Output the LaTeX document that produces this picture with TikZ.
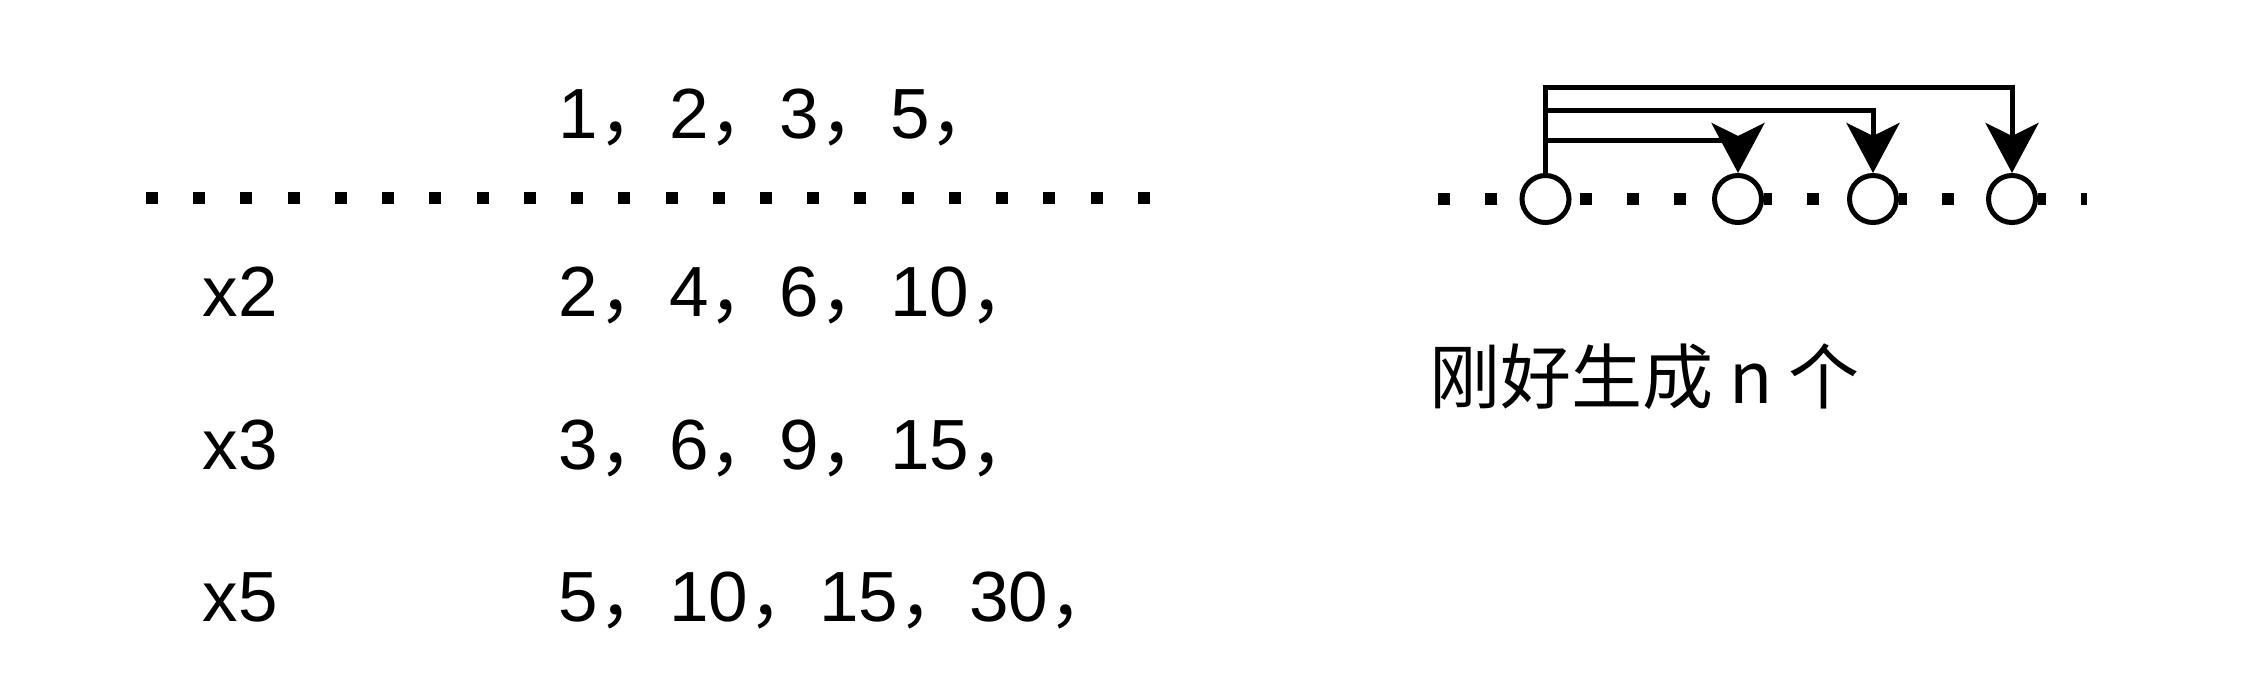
\documentclass[tikz,border=0pt]{standalone}
\usepackage{fontspec}
\usepackage{tikz}
\usetikzlibrary{arrows.meta}
\setmainfont{Liberation Sans}
\newfontfamily\cjk{Noto Sans CJK SC}
\newcommand{\dou}{{\cjk ，}}

\begin{document}
\begin{tikzpicture}[x=0.01cm,y=-0.01cm,
  num/.style={inner sep=0pt,anchor=base west,font=\fontsize{20.2pt}{24pt}\selectfont},
  dotline/.style={line width=0.12cm,dash pattern=on 0.12cm off 0.352cm},
  ring/.style={circle,draw,fill=white,line width=0.05cm,minimum size=0.47cm,inner sep=0pt},
  link/.style={line width=0.05cm,-{Stealth[length=0.5cm,width=0.53cm,inset=0.13cm]}}]
  \useasboundingbox (0,0) rectangle (2252,684);

  % left part: multiples
  \node[num] (r0) at (558,138) {1\dou 2\dou 3\dou 5\dou};
  \coordinate (la) at (146,198.3);
  \coordinate (lb) at (1150,198.3);
  \draw[dotline] (la) -- (lb);

  \node[num] (m2) at (202,316) {x2};
  \node[num] (m3) at (202,469) {x3};
  \node[num] (m5) at (202,621) {x5};
  \node[num] (s2) at (558,316) {2\dou 4\dou 6\dou 10\dou};
  \node[num] (s3) at (558,469) {3\dou 6\dou 9\dou 15\dou};
  \node[num] (s5) at (558,621) {5\dou 10\dou 15\dou 30\dou};

  % right part: pointers
  \node[ring] (c1) at (1545.5,199) {};
  \node[ring] (c2) at (1738,199) {};
  \node[ring] (c3) at (1873,199) {};
  \node[ring] (c4) at (2012,199) {};
  \coordinate (ra) at (1438,199);
  \coordinate (rb) at (2087,199);
  \draw[dotline] (ra) -- (c1);
  \draw[dotline,dash phase=0.392cm] (c1) -- (c2);
  \draw[dotline,dash phase=0.04cm] (c2) -- (c3);
  \draw[dotline,dash phase=0.04cm] (c3) -- (c4);
  \draw[dotline,dash phase=0.04cm] (c4) -- (rb);

  \draw[link] (c1.north) -- ++(0,-32.5) -| (c2.north);
  \draw[link] (c1.north) -- ++(0,-62) -| (c3.north);
  \draw[link] (c1.north) -- ++(0,-85) -| (c4.north);

  \node[num] (note) at (1429,403) {\cjk 刚好生成 n 个};
\end{tikzpicture}
\end{document}
